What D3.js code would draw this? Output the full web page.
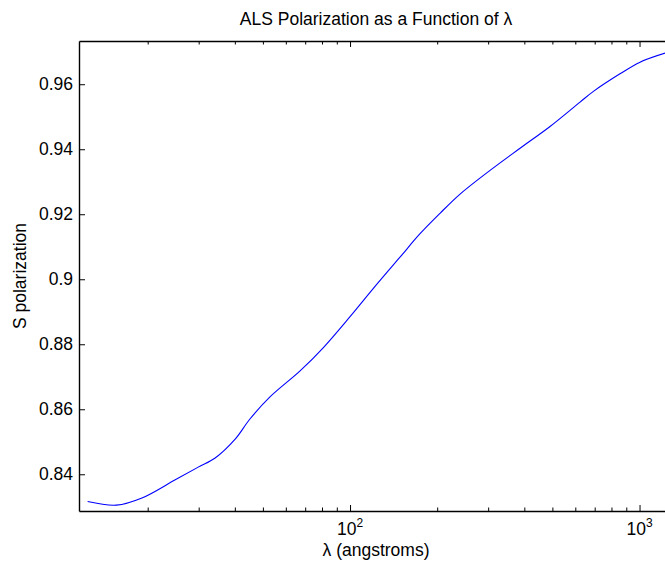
<!DOCTYPE html>
<html>
<head>
<meta charset="utf-8">
<script src="https://cdn.jsdelivr.net/npm/d3@7/dist/d3.min.js"></script>
<style>
  html, body { margin: 0; padding: 0; background: #fff; overflow: hidden; }
  svg { display: block; font-family: "Liberation Sans", Arial, Helvetica, sans-serif; }
</style>
</head>
<body>
<svg id="chart" width="665" height="565"></svg>
<script>
// Wavelength (angstroms) and S polarization of the ALS source
const wavelength = [12.4, 15.6, 19.1, 24.9, 29.9, 34.2, 40.1, 45.1, 52.9, 67.2, 80.9,
  100, 120.4, 148.8, 174.5, 204.6, 239.9, 304.5, 386.6, 490.7, 623, 693, 856, 1004, 1240];
const polarization = [0.8316, 0.8305, 0.8327, 0.8383, 0.8422, 0.8450, 0.8508, 0.8570, 0.8638, 0.8718, 0.8790,
  0.8885, 0.8972, 0.9068, 0.9140, 0.9203, 0.9262, 0.9335, 0.9403, 0.9470, 0.9545, 0.9578, 0.9632, 0.9668, 0.9697];

// Axis ticks
const yTicks = [0.84, 0.86, 0.88, 0.90, 0.92, 0.94, 0.96];
const yTickLabels = ["0.84", "0.86", "0.88", "0.9", "0.92", "0.94", "0.96"];
const xMajorTicks = [100, 1000];
const xMajorBase = ["10", "10"];
const xMajorExp = ["2", "3"];
const xMinorTicks = [20, 30, 40, 50, 60, 70, 80, 90, 200, 300, 400, 500, 600, 700, 800, 900];

// Axis limits
const xLimits = [11.58, 1305];
const yLimits = [0.8287, 0.9733];

const plot = { left: 79, right: 673, top: 41, bottom: 511 };
const fontSize = 17.5;

const svg = d3.select("#chart");

const x = d3.scaleLog().domain(xLimits).range([plot.left, plot.right]);
const y = d3.scaleLinear().domain(yLimits).range([plot.bottom, plot.top]);

svg.append("defs").append("clipPath").attr("id", "plotClip")
  .append("rect")
  .attr("x", plot.left).attr("y", plot.top)
  .attr("width", plot.right - plot.left).attr("height", plot.bottom - plot.top);

// Curve
const points = wavelength.map((w, i) => [w, polarization[i]]);
const line = d3.line()
  .x(d => x(d[0]))
  .y(d => y(d[1]))
  .curve(d3.curveCatmullRom.alpha(0.5));

svg.append("path")
  .datum(points)
  .attr("clip-path", "url(#plotClip)")
  .attr("fill", "none")
  .attr("stroke", "#0000ff")
  .attr("stroke-width", 1.1)
  .attr("d", line);

// Axes with inward ticks on all four sides
function styleAxis(g) {
  g.selectAll("path.domain").attr("stroke", "#000").attr("stroke-width", 1.4);
  g.selectAll(".tick line").attr("stroke", "#000").attr("stroke-width", 1);
}

const majorLen = 6, minorLen = 3.5;

// Bottom
const gBottom = svg.append("g").attr("transform", `translate(0,${plot.bottom})`);
gBottom.call(d3.axisBottom(x).tickValues(xMajorTicks).tickSize(-majorLen).tickSizeOuter(0).tickFormat(""));
gBottom.append("g").call(d3.axisBottom(x).tickValues(xMinorTicks).tickSize(-minorLen).tickSizeOuter(0).tickFormat(""))
  .select("path.domain").remove();
gBottom.selectAll("g").call(styleAxis);
styleAxis(gBottom);

// Top
const gTop = svg.append("g").attr("transform", `translate(0,${plot.top})`);
gTop.call(d3.axisTop(x).tickValues(xMajorTicks).tickSize(-majorLen).tickSizeOuter(0).tickFormat(""));
gTop.append("g").call(d3.axisTop(x).tickValues(xMinorTicks).tickSize(-minorLen).tickSizeOuter(0).tickFormat(""))
  .select("path.domain").remove();
gTop.selectAll("g").call(styleAxis);
styleAxis(gTop);

// Left
const gLeft = svg.append("g").attr("transform", `translate(${plot.left},0)`);
gLeft.call(d3.axisLeft(y).tickValues(yTicks).tickSize(-majorLen).tickSizeOuter(0).tickPadding(6)
  .tickFormat((d, i) => yTickLabels[i]));
styleAxis(gLeft);
gLeft.selectAll(".tick text")
  .attr("fill", "#000")
  .style("font-size", fontSize + "px")
  .style("font-family", "'Liberation Sans', Arial, Helvetica, sans-serif");

// Right
const gRight = svg.append("g").attr("transform", `translate(${plot.right},0)`);
gRight.call(d3.axisRight(y).tickValues(yTicks).tickSize(-majorLen).tickSizeOuter(0).tickFormat(""));
styleAxis(gRight);

// Decade labels with exponents
const decadeLabels = svg.append("g");
xMajorTicks.forEach((v, i) => {
  const t = decadeLabels.append("text")
    .attr("x", x(v))
    .attr("y", plot.bottom + 24)
    .attr("text-anchor", "middle")
    .style("font-size", fontSize + "px")
    .attr("fill", "#000");
  t.append("tspan").text(xMajorBase[i]);
  t.append("tspan")
    .attr("dy", -8)
    .style("font-size", "12px")
    .text(xMajorExp[i]);
});

// Title and axis labels
svg.append("text")
  .attr("x", (plot.left + plot.right) / 2)
  .attr("y", 25)
  .attr("text-anchor", "middle")
  .style("font-size", fontSize + "px")
  .attr("fill", "#000")
  .text("ALS Polarization as a Function of λ");

svg.append("text")
  .attr("x", (plot.left + plot.right) / 2)
  .attr("y", 556)
  .attr("text-anchor", "middle")
  .style("font-size", fontSize + "px")
  .attr("fill", "#000")
  .text("λ (angstroms)");

svg.append("text")
  .attr("transform", `translate(26,${(plot.top + plot.bottom) / 2}) rotate(-90)`)
  .attr("text-anchor", "middle")
  .style("font-size", fontSize + "px")
  .attr("fill", "#000")
  .text("S polarization");
</script>
</body>
</html>
